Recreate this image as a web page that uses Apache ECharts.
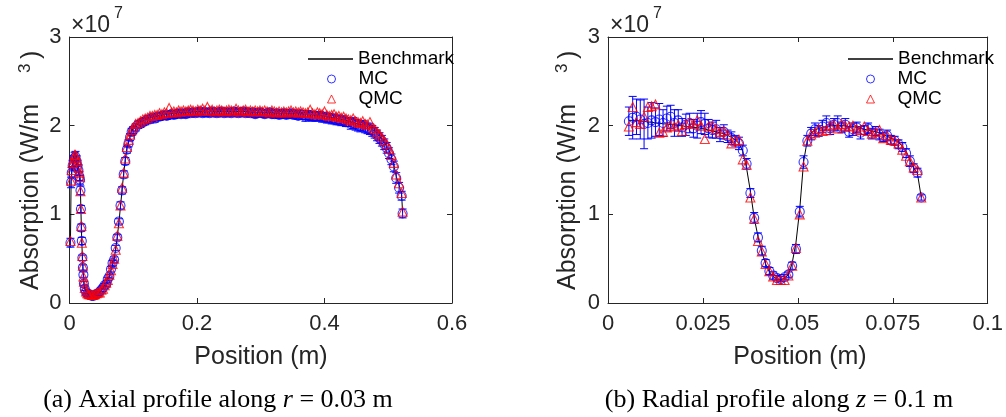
<!DOCTYPE html>
<html>
<head>
<meta charset="utf-8">
<script src="https://cdn.jsdelivr.net/npm/echarts@6/dist/echarts.min.js"></script>
<style>
  html, body { margin: 0; padding: 0; background: #fff; }
  #chart { width: 1006px; height: 417px; }
</style>
</head>
<body>
<div id="chart"></div>
<script>
// ---- (a) axial profile, position in mm, absorption in 1e7 W/m^3 ----
const axialX = [1.5,2.5,3.5,5,6.5,8,9.5,11,12.5,14,
  15.5,16.5,17.2,17.9,18.6,19.3,20.2,21,21.8,22.6,
  24,26,28,30,32.5,35,37.5,40,42.5,45,
  47.5,50,52.5,55,57.5,60,62.5,65,67.5,70,
  72.5,75,77.5,80,82.5,85,87.5,90,92.5,95,
  97.5,100,
  103.75,107.5,111.25,115,118.75,122.5,126.25,130,133.75,137.5,
  141.25,145,148.75,152.5,156.25,160,163.75,167.5,171.25,175,
  178.75,182.5,186.25,190,193.75,197.5,201.25,205,208.75,212.5,
  216.25,220,223.75,227.5,231.25,235,238.75,242.5,246.25,250,
  253.75,257.5,261.25,265,268.75,272.5,276.25,280,283.75,287.5,
  291.25,295,298.75,302.5,306.25,310,313.75,317.5,321.25,325,
  328.75,332.5,336.25,340,343.75,347.5,351.25,355,358.75,362.5,
  366.25,370,373.75,377.5,381.25,385,388.75,392.5,396.25,400,
  403.75,407.5,411.25,415,418.75,422.5,426.25,430,433.75,437.5,
  441.25,445,448.75,452.5,456.25,460,463.75,467.5,471.25,475,
  478.75,482.5,486.25,490,493.75,497.5,501.25,505,508.75,512.5,
  517,521,522.5];
const axialBench = [0.69,1.37,1.48,1.56,1.62,1.66,1.66,1.63,1.58,1.52,
  1.46,1.41,1.25,1.05,0.86,0.69,0.52,0.41,0.31,0.23,
  0.17,0.13,0.11,0.10,0.09,0.085,0.085,0.09,0.10,0.11,
  0.12,0.14,0.16,0.19,0.22,0.26,0.31,0.37,0.43,0.50,
  0.61,0.75,0.91,1.09,1.28,1.46,1.62,1.74,1.82,1.89,
  1.94,1.97,
  2.00,2.02,2.04,2.05,2.07,2.08,2.09,2.10,2.10,2.11,
  2.12,2.12,2.13,2.13,2.13,2.14,2.14,2.14,2.15,2.15,
  2.15,2.15,2.15,2.15,2.16,2.16,2.16,2.16,2.16,2.16,
  2.16,2.16,2.16,2.16,2.16,2.16,2.16,2.16,2.16,2.16,
  2.16,2.16,2.16,2.16,2.16,2.16,2.16,2.16,2.15,2.15,
  2.15,2.15,2.15,2.15,2.15,2.15,2.15,2.15,2.14,2.14,
  2.14,2.14,2.14,2.14,2.14,2.14,2.14,2.14,2.14,2.14,
  2.13,2.13,2.13,2.13,2.12,2.12,2.12,2.12,2.11,2.11,
  2.10,2.10,2.09,2.09,2.08,2.08,2.07,2.07,2.06,2.05,
  2.04,2.04,2.03,2.02,2.01,2.01,2.00,1.99,1.98,1.96,
  1.94,1.91,1.88,1.85,1.81,1.77,1.72,1.65,1.56,1.43,
  1.33,1.22,1.02];
const axialMC = [0.68,1.36,1.47,1.55,1.60,1.64,1.65,1.60,1.55,1.50,
  1.43,1.39,1.27,1.06,0.85,0.70,0.51,0.40,0.32,0.22,
  0.16,0.12,0.10,0.10,0.09,0.08,0.08,0.09,0.10,0.11,
  0.13,0.15,0.17,0.20,0.21,0.27,0.30,0.38,0.45,0.49,
  0.62,0.74,0.92,1.10,1.27,1.45,1.60,1.73,1.80,1.87,
  1.93,1.95,
  1.98,2.01,2.02,2.04,2.05,2.07,2.07,2.09,2.08,2.10,
  2.10,2.11,2.12,2.11,2.12,2.13,2.12,2.13,2.14,2.13,
  2.14,2.13,2.15,2.14,2.15,2.14,2.15,2.16,2.14,2.15,
  2.15,2.14,2.16,2.15,2.14,2.15,2.16,2.14,2.15,2.15,
  2.14,2.16,2.15,2.14,2.15,2.16,2.14,2.15,2.14,2.15,
  2.13,2.14,2.15,2.14,2.13,2.14,2.15,2.13,2.13,2.14,
  2.12,2.13,2.14,2.12,2.13,2.14,2.12,2.13,2.11,2.13,
  2.12,2.10,2.12,2.11,2.10,2.11,2.10,2.11,2.09,2.10,
  2.08,2.09,2.07,2.08,2.06,2.07,2.05,2.06,2.04,2.04,
  2.02,2.03,2.01,2.00,1.99,2.00,1.98,1.97,1.96,1.94,
  1.92,1.89,1.86,1.83,1.79,1.75,1.69,1.62,1.54,1.41,
  1.30,1.21,1.01];
const axialQMC = [0.70,1.38,1.50,1.58,1.63,1.67,1.67,1.64,1.60,1.53,
  1.47,1.42,1.26,1.06,0.87,0.68,0.53,0.42,0.30,0.24,
  0.17,0.13,0.11,0.10,0.10,0.09,0.09,0.10,0.11,0.12,
  0.12,0.15,0.16,0.20,0.23,0.26,0.32,0.37,0.44,0.50,
  0.60,0.76,0.90,1.10,1.30,1.47,1.63,1.76,1.84,1.90,
  1.95,1.98,
  2.02,2.03,2.05,2.07,2.08,2.09,2.11,2.11,2.12,2.12,
  2.14,2.13,2.15,2.14,2.20,2.15,2.16,2.15,2.17,2.16,
  2.17,2.16,2.17,2.18,2.17,2.16,2.18,2.17,2.19,2.17,
  2.21,2.17,2.18,2.16,2.17,2.18,2.17,2.16,2.17,2.18,
  2.17,2.16,2.19,2.17,2.16,2.17,2.18,2.16,2.17,2.16,
  2.17,2.16,2.17,2.16,2.17,2.16,2.15,2.17,2.16,2.15,
  2.16,2.15,2.16,2.15,2.16,2.17,2.15,2.16,2.15,2.16,
  2.15,2.14,2.15,2.18,2.14,2.13,2.15,2.14,2.13,2.16,
  2.12,2.11,2.12,2.13,2.10,2.11,2.09,2.10,2.08,2.07,
  2.06,2.08,2.05,2.04,2.03,2.05,2.02,2.01,2.04,1.98,
  1.96,1.93,1.90,1.87,1.83,1.79,1.74,1.67,1.58,1.45,
  1.35,1.24,1.03];
const axialErr = [0.05,0.06,0.06,0.06,0.06,0.06,0.06,0.06,0.06,0.06,
  0.05,0.05,0.05,0.04,0.04,0.04,0.03,0.03,0.03,0.02,
  0.02,0.02,0.02,0.02,0.02,0.02,0.02,0.02,0.02,0.02,
  0.02,0.02,0.02,0.02,0.02,0.02,0.02,0.03,0.03,0.03,
  0.03,0.03,0.03,0.04,0.04,0.04,0.04,0.04,0.04,0.04,
  0.04,0.04,
  0.04,0.04,0.04,0.04,0.04,0.04,0.04,0.04,0.04,0.04,
  0.04,0.04,0.04,0.04,0.04,0.04,0.04,0.04,0.04,0.04,
  0.04,0.04,0.04,0.04,0.04,0.04,0.04,0.04,0.04,0.04,
  0.04,0.04,0.04,0.04,0.04,0.04,0.04,0.04,0.04,0.04,
  0.04,0.04,0.04,0.04,0.04,0.04,0.04,0.04,0.04,0.04,
  0.04,0.04,0.04,0.04,0.04,0.04,0.04,0.04,0.04,0.04,
  0.04,0.04,0.04,0.04,0.04,0.04,0.04,0.04,0.04,0.04,
  0.05,0.05,0.05,0.05,0.05,0.05,0.05,0.05,0.05,0.05,
  0.05,0.05,0.05,0.05,0.05,0.05,0.05,0.05,0.05,0.05,
  0.06,0.06,0.06,0.06,0.06,0.06,0.06,0.06,0.06,0.06,
  0.06,0.06,0.06,0.06,0.06,0.06,0.06,0.06,0.06,0.06,
  0.06,0.05,0.05];

// ---- (b) radial profile, position in mm ----
const radialX = [5.5,6.5,7.5,8.5,9.5,10.5,11.5,12.5,13.5,14.5,
  15.5,16.5,17.5,18.5,19.5,20.5,21.5,22.5,23.5,24.5,
  25.5,26.5,27.5,28.5,29.5,30.5,31.5,32.5,33.5,34.5,
  35.5,36.5,37.5,38.5,39.5,40.5,41.5,42.5,43.5,44.5,
  45.5,46.5,47.5,48.5,49.5,50.5,51.5,52.5,53.5,54.5,
  55.5,56.5,57.5,58.5,59.5,60.5,61.5,62.5,63.5,64.5,
  65.5,66.5,67.5,68.5,69.5,70.5,71.5,72.5,73.5,74.5,
  75.5,76.5,77.5,78.5,79.5,80.5,81.5,82.5];
const radialBench = [2.06,2.06,2.06,2.05,2.05,2.04,2.04,2.03,2.03,2.02,
  2.02,2.01,2.01,2.00,2.00,1.99,1.99,1.98,1.98,1.97,
  1.96,1.95,1.94,1.93,1.92,1.91,1.89,1.87,1.84,1.80,
  1.71,1.52,1.26,0.96,0.75,0.58,0.44,0.35,0.30,0.27,
  0.26,0.28,0.32,0.45,0.68,1.06,1.59,1.84,1.92,1.95,
  1.97,1.98,1.99,2.00,2.00,2.00,2.00,2.00,1.99,1.99,
  1.98,1.97,1.96,1.95,1.94,1.93,1.92,1.90,1.88,1.86,
  1.84,1.81,1.77,1.71,1.62,1.52,1.46,1.19];
const radialMC = [2.05,2.09,2.10,2.07,2.02,2.03,2.06,2.04,2.07,2.03,
  2.08,2.10,2.03,2.06,1.98,2.01,2.03,1.97,2.00,2.04,
  2.02,1.97,1.95,1.96,1.90,1.93,1.88,1.86,1.83,1.80,
  1.72,1.57,1.24,0.96,0.74,0.59,0.45,0.36,0.31,0.28,
  0.27,0.29,0.32,0.42,0.61,1.03,1.59,1.83,1.91,1.96,
  1.94,1.99,2.03,1.97,2.01,2.03,1.98,2.01,1.93,1.96,
  1.98,1.92,1.95,1.97,1.91,1.94,1.90,1.87,1.89,1.84,
  1.83,1.79,1.76,1.69,1.60,1.52,1.47,1.19];
const radialQMC = [1.99,2.21,2.04,2.02,2.10,2.21,2.22,2.24,1.92,1.93,
  1.98,2.00,1.99,2.01,1.94,2.02,2.04,2.02,2.06,2.00,
  1.85,1.99,2.00,1.96,1.93,1.94,1.90,1.80,1.83,1.84,
  1.62,1.56,1.19,0.95,0.70,0.58,0.44,0.36,0.30,0.26,
  0.26,0.26,0.31,0.42,0.62,1.00,1.54,1.83,1.90,1.92,
  1.96,1.94,1.95,2.00,2.01,1.97,2.02,2.00,1.99,2.00,
  1.96,1.95,1.99,1.94,1.91,1.93,1.95,1.86,1.89,1.84,
  1.83,1.80,1.73,1.66,1.60,1.53,1.50,1.19];
const radialErr = [0.16,0.24,0.20,0.22,0.28,0.18,0.20,0.16,0.18,0.15,
  0.14,0.13,0.15,0.12,0.10,0.12,0.11,0.10,0.14,0.13,
  0.12,0.10,0.09,0.10,0.08,0.08,0.07,0.07,0.06,0.07,
  0.06,0.06,0.05,0.06,0.05,0.05,0.04,0.04,0.04,0.03,
  0.03,0.03,0.03,0.04,0.05,0.06,0.07,0.06,0.07,0.07,
  0.06,0.07,0.08,0.07,0.07,0.08,0.06,0.07,0.06,0.07,
  0.06,0.07,0.05,0.06,0.06,0.05,0.06,0.05,0.06,0.05,
  0.05,0.05,0.05,0.05,0.06,0.05,0.05,0.03];

const axialTicks = [0, 0.6, 0.2];
const radialTicks = [0, 0.1, 0.025];
const yTicks = [0, 3, 1];

const FONT = "'Liberation Sans', Arial, Helvetica, sans-serif";
const SERIF = "'Liberation Serif', 'Times New Roman', serif";
const AX = '#262626';
const BLUE = '#0000ff';
const RED = '#ff0000';
const CLEAR = 'rgba(0,0,0,0)';

const pairs = (xs, ys) => xs.map((x, i) => [x / 1000, ys[i]]);

function errorBars(xs, ys, es, axis) {
  return {
    type: 'custom',
    name: 'MC error',
    xAxisIndex: axis, yAxisIndex: axis,
    silent: true,
    z: 3,
    data: xs.map((x, i) => [x / 1000, ys[i] - es[i], ys[i] + es[i]]),
    renderItem: function (params, api) {
      const lo = api.coord([api.value(0), api.value(1)]);
      const hi = api.coord([api.value(0), api.value(2)]);
      const w = 4;
      const st = { stroke: BLUE, lineWidth: 1 };
      return {
        type: 'group',
        children: [
          { type: 'line', shape: { x1: lo[0], y1: lo[1], x2: hi[0], y2: hi[1] }, style: st },
          { type: 'line', shape: { x1: lo[0] - w, y1: lo[1], x2: lo[0] + w, y2: lo[1] }, style: st },
          { type: 'line', shape: { x1: hi[0] - w, y1: hi[1], x2: hi[0] + w, y2: hi[1] }, style: st }
        ]
      };
    }
  };
}

function dataSeries(xs, bench, mc, qmc, err, axis) {
  return [
    {
      name: 'Benchmark', type: 'line', xAxisIndex: axis, yAxisIndex: axis,
      data: pairs(xs, bench), symbol: 'none', z: 2,
      lineStyle: { color: '#000', width: 1 }, itemStyle: { color: '#000' }
    },
    errorBars(xs, mc, err, axis),
    {
      name: 'MC', type: 'scatter', xAxisIndex: axis, yAxisIndex: axis,
      data: pairs(xs, mc), symbol: 'circle', symbolSize: 9, z: 4,
      itemStyle: { color: CLEAR, borderColor: BLUE, borderWidth: 1.1 }
    },
    {
      name: 'QMC', type: 'scatter', xAxisIndex: axis, yAxisIndex: axis,
      data: pairs(xs, qmc), symbol: 'triangle', symbolSize: 9, z: 5,
      itemStyle: { color: CLEAR, borderColor: RED, borderWidth: 1.1 }
    }
  ];
}

function xAx(grid, ticks, pos, labels) {
  return {
    type: 'value', gridIndex: grid, position: pos,
    min: ticks[0], max: ticks[1], interval: ticks[2],
    axisLine: { show: true, onZero: false, lineStyle: { color: AX, width: 1 } },
    axisTick: { show: true, inside: true, length: 5, lineStyle: { color: AX } },
    axisLabel: { show: labels, color: AX, fontSize: 22, fontFamily: FONT, margin: 10 },
    splitLine: { show: false }
  };
}
function yAx(grid, pos, labels) {
  return {
    type: 'value', gridIndex: grid, position: pos,
    min: yTicks[0], max: yTicks[1], interval: yTicks[2],
    axisLine: { show: true, onZero: false, lineStyle: { color: AX, width: 1 } },
    axisTick: { show: true, inside: true, length: 5, lineStyle: { color: AX } },
    axisLabel: { show: labels, color: AX, fontSize: 22, fontFamily: FONT, margin: 8 },
    splitLine: { show: false }
  };
}

const legendText = { fontSize: 19, fontFamily: FONT, color: '#000', lineHeight: 20 };

function legends(left, markerLeft) {
  return [
    {
      left: left, top: 49, padding: 0, orient: 'vertical', selectedMode: false,
      itemWidth: 45, itemHeight: 1.5, itemGap: 0,
      data: [{ name: 'Benchmark', icon: 'rect', itemStyle: { color: '#000', borderWidth: 0 } }],
      textStyle: legendText
    },
    {
      left: markerLeft, top: 69, padding: 0, orient: 'vertical', selectedMode: false,
      itemWidth: 8, itemHeight: 8, itemGap: 0,
      data: [
        { name: 'MC', icon: 'circle', itemStyle: { color: CLEAR, borderColor: BLUE, borderWidth: 1 } },
        { name: 'QMC', icon: 'triangle', itemStyle: { color: CLEAR, borderColor: RED, borderWidth: 1 } }
      ],
      textStyle: Object.assign({ padding: [0, 0, 0, 18] }, legendText)
    }
  ];
}

function txt(x, y, text, size, opts) {
  opts = opts || {};
  const el = {
    type: 'text', x: x, y: y,
    style: { text: text, fontSize: size, fontFamily: FONT, fill: AX,
      align: opts.align || 'left', verticalAlign: 'middle' }
  };
  if (opts.rotation !== undefined) el.rotation = opts.rotation;
  return el;
}

function yTitle(cx) {
  const r = Math.PI / 2;
  return [
    txt(cx, 290, 'Absorption (W/m', 25, { rotation: r }),
    txt(cx - 6, 73, '3', 17, { rotation: r }),
    txt(cx + 1, 59, ')', 25, { rotation: r })
  ];
}

function caption(cx, text) {
  return {
    type: 'text', x: cx, y: 400,
    style: {
      text: text, fontSize: 26, fontFamily: SERIF,
      fill: '#000', align: 'center', verticalAlign: 'middle',
      rich: { i: { fontStyle: 'italic', fontSize: 26, fontFamily: SERIF } }
    }
  };
}

const chart = echarts.init(document.getElementById('chart'), null, { renderer: 'canvas' });
chart.setOption({
  animation: false,
  backgroundColor: '#fff',
  grid: [
    { left: 69.5, top: 37, width: 382.5, height: 266 },
    { left: 608, top: 37, width: 384, height: 266 }
  ],
  xAxis: [
    xAx(0, axialTicks, 'bottom', true),
    xAx(1, radialTicks, 'bottom', true),
    xAx(0, axialTicks, 'top', false),
    xAx(1, radialTicks, 'top', false)
  ],
  yAxis: [
    yAx(0, 'left', true),
    yAx(1, 'left', true),
    yAx(0, 'right', false),
    yAx(1, 'right', false)
  ],
  legend: [].concat(legends(308, 327), legends(848, 866)),
  series: [].concat(
    dataSeries(axialX, axialBench, axialMC, axialQMC, axialErr, 0),
    dataSeries(radialX, radialBench, radialMC, radialQMC, radialErr, 1)
  ),
  graphic: [].concat(
    yTitle(31), yTitle(568),
    [
      txt(71, 26, '×10', 23),
      txt(114, 14, '7', 16),
      txt(610, 26, '×10', 23),
      txt(653, 14, '7', 16),
      txt(261, 357, 'Position (m)', 25, { align: 'center' }),
      txt(800, 357, 'Position (m)', 25, { align: 'center' }),
      caption(218, '(a) Axial profile along {i|r} = 0.03 m'),
      caption(779, '(b) Radial profile along {i|z} = 0.1 m')
    ]
  )
});
</script>
</body>
</html>
